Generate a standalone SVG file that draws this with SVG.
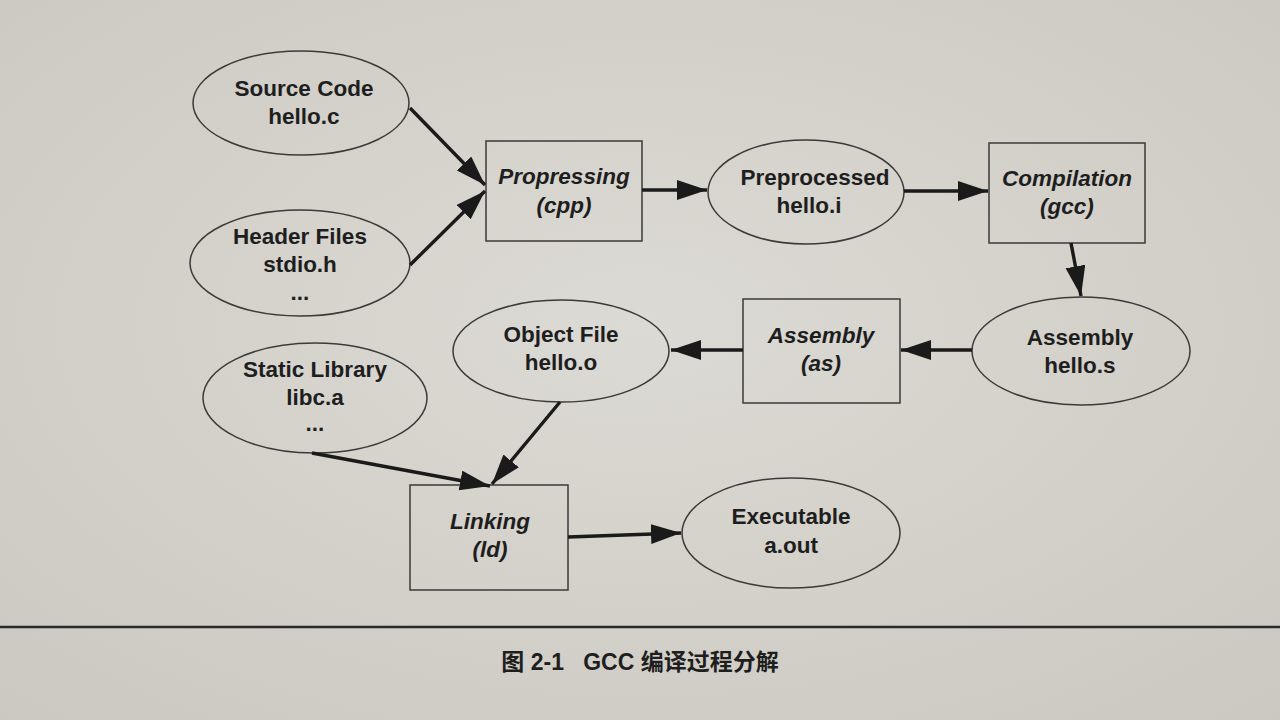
<svg xmlns="http://www.w3.org/2000/svg" width="1280" height="720" viewBox="0 0 1280 720">
<defs>
<radialGradient id="bg" cx="50%" cy="45%" r="75%">
<stop offset="0" stop-color="#dcdad4"/>
<stop offset="1" stop-color="#cbc8c1"/>
</radialGradient>
<marker id="ah" markerUnits="userSpaceOnUse" markerWidth="32" markerHeight="22" refX="30" refY="10" orient="auto">
<path d="M0,0 L30,10 L0,20 z" fill="#1a1a1a"/>
</marker>
</defs>
<style>
.n{fill:none;stroke:#3a3a3a;stroke-width:1.5}
.t{font-family:"Liberation Sans",Arial,sans-serif;font-weight:bold;font-size:22.5px;fill:#1e1e1e;text-anchor:middle}
.i{font-style:italic}
.c{fill:none;stroke:#1a1a1a;stroke-width:3.4;marker-end:url(#ah)}
.cap{font-family:"Liberation Sans","Noto Sans CJK SC",sans-serif;font-weight:bold;font-size:23px;fill:#1e1e1e;text-anchor:middle}
</style>
<rect width="1280" height="720" fill="url(#bg)"/>
<g id="source">
<ellipse class="n" cx="301" cy="103" rx="108" ry="52"/>
<text class="t" x="304" y="96">Source Code</text>
<text class="t" x="304" y="124">hello.c</text>
</g>
<g id="header">
<ellipse class="n" cx="300" cy="263" rx="110" ry="53"/>
<text class="t" x="300" y="244">Header Files</text>
<text class="t" x="300" y="272">stdio.h</text>
<text class="t" x="300" y="300">...</text>
</g>
<g id="cpp">
<rect class="n" x="486" y="141" width="156" height="100"/>
<text class="t i" x="564" y="184">Propressing</text>
<text class="t i" x="564" y="213">(cpp)</text>
</g>
<g id="preprocessed">
<ellipse class="n" cx="806" cy="192" rx="98" ry="52"/>
<text class="t" x="815" y="185">Preprocessed</text>
<text class="t" x="809" y="213">hello.i</text>
</g>
<g id="gcc">
<rect class="n" x="989" y="143" width="156" height="100"/>
<text class="t i" x="1067" y="186">Compilation</text>
<text class="t i" x="1067" y="214">(gcc)</text>
</g>
<g id="asm">
<ellipse class="n" cx="1081" cy="351" rx="109" ry="54"/>
<text class="t" x="1080" y="345">Assembly</text>
<text class="t" x="1080" y="373">hello.s</text>
</g>
<g id="as">
<rect class="n" x="743" y="299" width="157" height="104"/>
<text class="t i" x="821" y="343">Assembly</text>
<text class="t i" x="821" y="371">(as)</text>
</g>
<g id="object">
<ellipse class="n" cx="561" cy="351" rx="108" ry="51"/>
<text class="t" x="561" y="342">Object File</text>
<text class="t" x="561" y="370">hello.o</text>
</g>
<g id="static">
<ellipse class="n" cx="315" cy="398" rx="112" ry="55"/>
<text class="t" x="315" y="377">Static Library</text>
<text class="t" x="315" y="405">libc.a</text>
<text class="t" x="315" y="431">...</text>
</g>
<g id="ld">
<rect class="n" x="410" y="485" width="158" height="105"/>
<text class="t i" x="490" y="529">Linking</text>
<text class="t i" x="490" y="557">(ld)</text>
</g>
<g id="exe">
<ellipse class="n" cx="791" cy="533" rx="109" ry="55"/>
<text class="t" x="791" y="524">Executable</text>
<text class="t" x="791" y="553">a.out</text>
</g>
<g id="connectors">
<line class="c" x1="410" y1="108" x2="485" y2="185"/>
<line class="c" x1="410" y1="265" x2="485" y2="191"/>
<line class="c" x1="642" y1="190" x2="707" y2="190"/>
<line class="c" x1="904" y1="191" x2="988" y2="191"/>
<line class="c" x1="1071" y1="243" x2="1081" y2="296"/>
<line class="c" x1="972" y1="350" x2="901" y2="350"/>
<line class="c" x1="743" y1="350" x2="671" y2="350"/>
<line class="c" x1="560" y1="402" x2="492" y2="484"/>
<line class="c" x1="312" y1="453" x2="490" y2="486"/>
<line class="c" x1="568" y1="537" x2="681" y2="533"/>
</g>
<line x1="0" y1="627" x2="1280" y2="627" stroke="#2a2a2a" stroke-width="2.5"/>
<text class="cap" x="640" y="670" xml:space="preserve">图 2-1   GCC 编译过程分解</text>
</svg>
